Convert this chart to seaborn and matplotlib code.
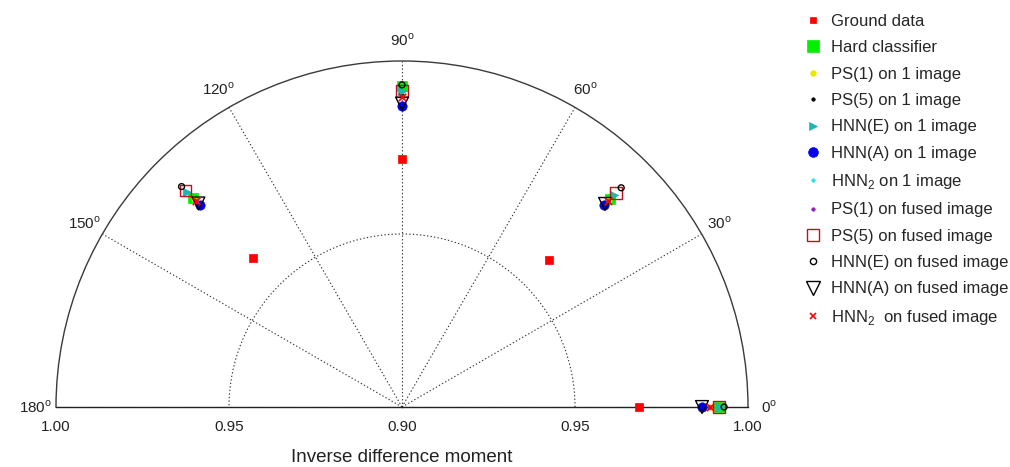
import numpy as np
import pandas as pd
import matplotlib
matplotlib.use("Agg")
import matplotlib.pyplot as plt
from matplotlib.lines import Line2D
from matplotlib.transforms import offset_copy
import seaborn as sns

# ---------------- data ----------------
directions_deg = [0, 45, 90, 135]

series_names = [
    "Ground data", "Hard classifier", "PS(1) on 1 image", "PS(5) on 1 image",
    "HNN(E) on 1 image", "HNN(A) on 1 image", "HNN$_\\mathregular{2}$ on 1 image",
    "PS(1) on fused image", "PS(5) on fused image", "HNN(E) on fused image",
    "HNN(A) on fused image", "HNN$_\\mathregular{2}$  on fused image",
]

ground_data      = [0.9685, 0.9601, 0.9717, 0.9611]
hard_classifier  = [0.9916, 0.9850, 0.9928, 0.9856]
ps1_one          = [0.9890, 0.9845, 0.9905, 0.9850]
ps5_one          = [0.9888, 0.9843, 0.9902, 0.9848]
hnne_one         = [0.9918, 0.9866, 0.9912, 0.9877]
hnna_one         = [0.9868, 0.9827, 0.9871, 0.9826]
hnn2_one         = [0.9889, 0.9841, 0.9896, 0.9841]
ps1_fused        = [0.9891, 0.9842, 0.9898, 0.9843]
ps5_fused        = [0.9917, 0.9875, 0.9913, 0.9885]
hnne_fused       = [0.9931, 0.9896, 0.9931, 0.9901]
hnna_fused       = [0.9867, 0.9830, 0.9877, 0.9832]
hnn2_fused       = [0.9890, 0.9841, 0.9896, 0.9841]

series_values = [ground_data, hard_classifier, ps1_one, ps5_one, hnne_one, hnna_one,
                 hnn2_one, ps1_fused, ps5_fused, hnne_fused, hnna_fused, hnn2_fused]

angle_ticks = [0, 30, 60, 90, 120, 150, 180]
radial_labels = ["1.00", "0.95", "0.90", "0.95", "1.00"]

# ---------------- styles ----------------
# marker, scatter size, face, edge, linewidth, legend markersize
styles = [
    ("s", 30, "#ff0000", "#ff0000", 0.5, 5),
    ("s", 55, "#00f000", "#00f000", 0.5, 8),
    ("o", 14, "#e8e800", "#e8e800", 0.5, 4),
    ("o", 5,  "#000000", "#000000", 0.5, 2.5),
    (">", 36, "#22b4b4", "#22b4b4", 0.5, 6),
    ("o", 45, "#0000ee", "#0000ee", 0.5, 7),
    ("o", 6,  "#30e0e0", "#30e0e0", 0.5, 2.5),
    ("o", 6,  "#9020c0", "#9020c0", 0.5, 2.5),
    ("s", 70, "none",    "#c01020", 1.0, 9),
    ("o", 18, "none",    "#000000", 1.0, 4.5),
    ("v", 85, "none",    "#000000", 1.0, 10),
    ("x", 28, "#ff0000", "#ff0000", 1.2, 5),
]

records = []
for name, vals in zip(series_names, series_values):
    for d, v in zip(directions_deg, vals):
        records.append({"series": name, "theta": np.deg2rad(d), "value": v})
df = pd.DataFrame(records)

sns.set_theme(style="white")
plt.rcParams["font.family"] = ["Liberation Sans", "DejaVu Sans"]
plt.rcParams["mathtext.fontset"] = "custom"
plt.rcParams["mathtext.rm"] = "Liberation Sans"

W, H = 1010, 467
fig = plt.figure(figsize=(W / 100, H / 100), dpi=100)
cx, cy, R = 402, 407, 346
# the half-disc is drawn centred in a box twice its size
bw, bh = 4 * R, 2 * R
bx0 = cx - bw / 2
by_center = cy - R / 2
by0_top = by_center - bh / 2
ax = fig.add_axes([bx0 / W, (H - (by0_top + bh)) / H, bw / W, bh / H], projection="polar")
ax.set_thetamin(0)
ax.set_thetamax(180)
ax.set_rlim(0.90, 1.00)

for name, (mk, s, fc, ec, lw, _) in zip(series_names, styles):
    sub = df[df["series"] == name]
    sns.scatterplot(data=sub, x="theta", y="value", ax=ax, marker=mk, s=s,
                    facecolor=fc, edgecolor=ec, linewidth=lw, clip_on=False,
                    legend=False, zorder=3)

ax.set_xlabel("")
ax.set_ylabel("")
ax.set_thetagrids(angle_ticks, labels=[f"{a}$^\\mathregular{{o}}$" for a in angle_ticks])
ax.tick_params(axis="x", pad=2, labelsize=11, colors="#222222")
ax.set_yticks([0.95])
ax.set_yticklabels([])
ax.tick_params(axis="y", length=0)
ax.grid(True, linestyle=(0, (1.2, 2)), color="#333333", linewidth=0.8)
ax.spines["polar"].set_color("#3a3a3a")
ax.spines["polar"].set_linewidth(1.0)
for k in ("start", "end"):
    ax.spines[k].set_color("#222222")
    ax.spines[k].set_linewidth(1.0)
ax.spines["inner"].set_visible(False)

trans = offset_copy(ax.transData, fig=fig, y=-9.5, units="points")
for (th, r), lab in zip([(np.pi, 1.0), (np.pi, 0.95), (0.0, 0.90), (0.0, 0.95), (0.0, 1.0)],
                        radial_labels):
    ax.text(th, r, lab, transform=trans, ha="center", va="top", fontsize=11,
            color="#222222", clip_on=False)

fig.text(cx / W, 1 - 457 / H, "Inverse difference moment", ha="center", va="center",
         fontsize=13.5, color="#222222")

handles = [Line2D([], [], ls="none", marker=mk, markersize=ms,
                  markerfacecolor=fc, markeredgecolor=ec, markeredgewidth=lw if fc == "none" or mk == "x" else 0.5)
           for (mk, s, fc, ec, lw, ms) in styles]
fig.legend(handles, series_names, loc="upper left", bbox_to_anchor=(804.6 / W, 1 - 14 / H),
           frameon=False, fontsize=12, labelspacing=0.68, handlelength=1.0,
           handletextpad=0.6, borderpad=0, borderaxespad=0)

fig.savefig("out.png", dpi=100)
